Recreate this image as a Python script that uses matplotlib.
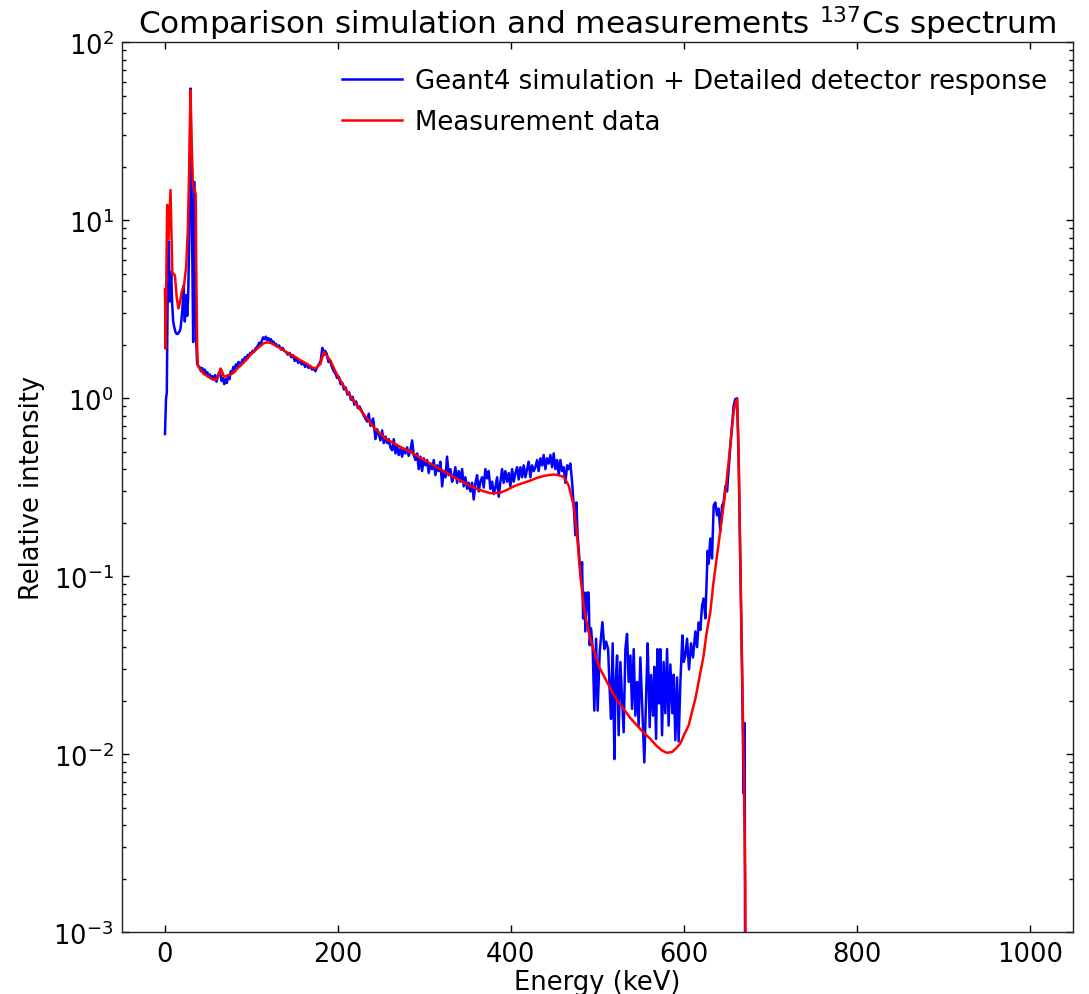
import matplotlib
matplotlib.use("Agg")
import matplotlib.pyplot as plt
from matplotlib.ticker import LogLocator, NullFormatter

# ---------------- data ----------------
sim_label = "Geant4 simulation + Detailed detector response"
meas_label = "Measurement data"

sim_energy = [
    0, 1.2, 2.1, 3.3, 4.4, 5.5, 6.3, 7.2, 8.3, 9.5, 10.8, 12.1, 13.5, 14.8, 16.3, 17.9,
    19.9, 21.7, 22.9, 24.5, 25.7, 26.8, 28, 29.5, 31, 32.6, 34.1, 35.3, 36.3, 37.2,
    38.5, 40, 41.5, 43, 44.5, 46, 47.5, 49, 50.5, 52, 53.5, 55, 56.5, 58, 59.5, 61,
    62.5, 64, 65.5, 67, 68.5, 70, 71.5, 73, 74.5, 76, 77.5, 79, 80.5, 82, 83.5, 85,
    86.5, 88, 89.5, 91, 92.5, 94, 95.5, 97, 98.5, 100, 101.5, 103, 104.5, 106, 107.5,
    109, 110.5, 112, 113.5, 115, 116.5, 118, 119.5, 121, 122.5, 124, 125.5, 127, 128.5,
    130, 132, 134, 136, 138, 140, 142, 144, 146, 148, 150, 152, 154, 156, 158, 160,
    162, 164, 166, 168, 170, 172, 174, 176, 178, 180, 182, 183.5, 185, 187, 189, 191,
    193, 195, 197, 199, 201, 203, 205, 207, 209, 211, 213, 215, 217, 219, 221, 223, 225,
    229.8, 233.8, 235.6, 237.6, 240.7, 243.4, 245.3, 247.2, 249.1, 251.1, 253, 255,
    256.9, 258.7, 260.7, 262.7, 264.5, 266.5, 268.4, 270.3, 272.3, 274.2, 276.1, 278,
    280, 281.8, 283.8, 285.8, 287.6, 289.6, 291.6, 293.4, 295.4, 297.3, 299.2, 301.2,
    303.1, 305, 306.9, 308.9, 310.8, 312.7, 314.7, 316.5, 318.5, 320.5, 322.3, 324.3,
    326.2, 328.1, 330.1, 332, 333.9, 335.8, 337.8, 339.7, 341.6, 343.6, 345.4, 347.4,
    349.4, 351.2, 353.2, 355.1, 357, 359, 360.9, 362.8, 364.7, 366.7, 368.6, 370.5,
    372.5, 374.3, 376.3, 378.3, 380.1, 382.1, 384, 385.9, 387.9, 389.8, 391.7, 393.6,
    395.6, 397.5, 399.4, 401.4, 403.2, 405.2, 407.2, 409, 411, 413, 414.8, 416.8,
    418.7, 420.6, 422.5, 424.5, 426.4, 428.3, 430.3, 432.1, 434.1, 436.1, 437.9, 439.9,
    441.8, 443.7, 445.7, 447.6, 449.5, 451.4, 453.4, 455.3, 457.2, 459.2, 461, 463,
    465, 466.8, 468.8,
    470.8, 472.6, 474.6, 475.7, 477.2, 479.5, 481.2, 482.3, 483.5, 485, 486.1, 488.1,
    489.9, 491.1, 492.7, 494.6, 496.5, 498.5, 500.3, 502.7, 505.8, 508.1, 510.1, 512.4,
    514.2, 515.8, 517.7, 519.7, 520.8, 522.8, 524.6, 526.6, 528.6, 530.4, 532.4, 534.3,
    536.2, 538.2, 540.1, 542, 543.9, 545.9, 547.7, 549.7, 551.7, 554.3, 556.6, 558.2,
    560.5, 562.1, 564.4, 565.9, 567.9, 569.4, 571.3, 572.8, 574.8, 576.6, 578.6, 580.6,
    582.4, 584.4, 586.7, 588.2, 590.2, 592.1, 594, 596, 598.3, 599.8, 601.7, 603.7,
    606, 608.3, 610.6, 613.3, 615.3, 617.1, 619.1, 621, 622.9, 624.9, 626, 627.5,
    628.7, 630.6, 632.6, 634.5, 636.4, 638.4, 640.2, 642.2, 644.2, 646, 648, 650,
    651.8, 653.8, 655.7, 657.6, 659.5, 661.5, 663.4, 665.5, 667.5, 669.1, 670.3, 671.5,
]
sim_intensity = [
    0.63, 1.0, 1.07, 5.0, 7.6, 3.5, 4.2, 5.1, 3.4, 2.7, 2.5, 2.36, 2.3, 2.3, 2.35, 2.45,
    3.05, 4.3, 2.7, 3.8, 2.9, 3.75, 7.6, 55, 12, 2.07, 16.4, 5.1, 2.0, 1.56,
    1.52, 1.5, 1.42, 1.48, 1.38, 1.45, 1.36, 1.4, 1.32, 1.36, 1.29, 1.33, 1.27, 1.35, 1.24, 1.32,
    1.4, 1.38, 1.25, 1.3, 1.2, 1.28, 1.22, 1.35, 1.28, 1.42, 1.38, 1.5, 1.45, 1.55, 1.5, 1.6,
    1.58, 1.55, 1.65, 1.62, 1.7, 1.66, 1.75, 1.72, 1.8, 1.78, 1.85, 1.82, 1.9, 1.93, 1.98,
    2.05, 2.02, 2.1, 2.2, 2.15, 2.22, 2.12, 2.18, 2.1, 2.15, 2.05, 2.08, 2.0, 2.02,
    1.95, 1.98, 1.88, 1.92, 1.85, 1.82, 1.76, 1.8, 1.7, 1.75, 1.62, 1.68, 1.58, 1.63, 1.55, 1.6,
    1.5, 1.55, 1.48, 1.52, 1.45, 1.47, 1.42, 1.5, 1.55, 1.62, 1.92, 1.75, 1.85, 1.78, 1.6, 1.62,
    1.5, 1.42, 1.38, 1.3, 1.32, 1.2, 1.22, 1.12, 1.15, 1.05, 1.08, 0.98, 1.02, 0.92, 0.96, 0.88, 0.9,
    0.80, 0.74, 0.82, 0.70, 0.77, 0.59, 0.67, 0.63, 0.58, 0.66, 0.56, 0.61,
    0.56, 0.59, 0.53, 0.51, 0.59, 0.49, 0.54, 0.48, 0.52, 0.47, 0.52, 0.49,
    0.53, 0.475, 0.51, 0.58, 0.48, 0.45, 0.49, 0.40, 0.47, 0.39, 0.46, 0.42,
    0.45, 0.38, 0.43, 0.40, 0.45, 0.37, 0.42, 0.39, 0.44, 0.32, 0.39, 0.36,
    0.47, 0.37, 0.40, 0.34, 0.365, 0.41, 0.335, 0.39, 0.34, 0.40, 0.32, 0.36,
    0.31, 0.335, 0.30, 0.335, 0.27, 0.335, 0.37, 0.30, 0.34, 0.36, 0.315, 0.40,
    0.355, 0.39, 0.31, 0.34, 0.29, 0.315, 0.36, 0.28, 0.34, 0.40, 0.335, 0.39,
    0.34, 0.38, 0.32, 0.40, 0.34, 0.38, 0.41, 0.35, 0.41, 0.36, 0.42, 0.36,
    0.40, 0.44, 0.36, 0.42, 0.39, 0.41, 0.45, 0.39, 0.46, 0.42, 0.48, 0.40,
    0.46, 0.43, 0.48, 0.41, 0.49, 0.40, 0.45, 0.37, 0.45, 0.39, 0.41, 0.335,
    0.42, 0.40, 0.43,
    0.338, 0.25, 0.17, 0.26, 0.17, 0.12, 0.099, 0.12, 0.058, 0.081, 0.049, 0.081,
    0.081, 0.041, 0.051, 0.039, 0.0176, 0.0446, 0.0176, 0.0375, 0.0553, 0.039, 0.043, 0.039,
    0.0233, 0.0158, 0.042, 0.0094, 0.0233, 0.0359, 0.0128, 0.033, 0.0205, 0.0133, 0.039, 0.0475,
    0.0255, 0.0359, 0.018, 0.039, 0.0165, 0.0255, 0.0145, 0.035, 0.0193, 0.009, 0.0233, 0.042,
    0.0142, 0.0279, 0.0165, 0.031, 0.0122, 0.039, 0.0193, 0.039, 0.0128, 0.033, 0.017, 0.039,
    0.0145, 0.032, 0.017, 0.028, 0.012, 0.027, 0.0118, 0.0255, 0.0465, 0.033, 0.0359, 0.0446,
    0.030, 0.042, 0.035, 0.049, 0.040, 0.055, 0.050, 0.068, 0.075, 0.058, 0.085, 0.139,
    0.118, 0.163, 0.126, 0.25, 0.26, 0.22, 0.24, 0.178, 0.25, 0.26, 0.32, 0.30,
    0.40, 0.54, 0.70, 0.91, 0.99, 1.0, 0.45, 0.1, 0.025, 0.006, 0.015, 1e-5,
]

meas_energy = [
    0, 0.6, 2.5, 4, 6.4, 8.5, 10, 11.5, 13.5, 15.6, 17.5, 19.5, 22, 24.5, 26.5, 28,
    29.5, 31, 32.5, 34, 35.5, 36.4, 37.2, 37.9, 40, 44.9, 49, 52.6, 55, 58.4, 60.3,
    62.5, 64.2, 65.5, 68, 71.9, 75.7, 80, 83.5, 87, 90, 95, 100, 106.6, 114.2, 118,
    122, 133.5, 140, 148.9, 156, 164.4, 170, 174, 179.8, 183.6, 185.5, 191.3, 196,
    202.9, 210, 218.3, 226, 233.8, 241, 249.1, 256, 264.5, 273, 283.8, 293, 303.1,
    312, 322.3, 332, 341.6, 351, 360.9, 369, 376.3, 387.9, 395, 403.2, 413, 422.5,
    430, 437.9, 443, 449.5, 455, 461, 466.8, 472.6, 476.5, 480.3, 484.2, 487, 490,
    494, 497.7, 502, 507.3, 512, 517, 523, 530.4, 538, 545.9, 553, 561.3, 568, 574.8,
    580, 586.4, 591, 596, 600, 605.5, 609, 613.3, 618, 622.9, 626, 630.6, 634, 638.4,
    642, 646, 649, 651.8, 654.5, 657.6, 659.5, 661.5, 663, 665, 667, 669, 671, 673,
]
meas_intensity = [
    4.1, 1.9, 12.2, 7.8, 14.8, 5.0, 5.0, 4.9, 3.7, 3.2, 3.5, 4.0, 4.3, 5.5, 9, 20,
    54, 25, 15.5, 15, 14, 4, 2.0, 1.53, 1.47, 1.37, 1.33, 1.30, 1.28, 1.27, 1.29,
    1.36, 1.47, 1.44, 1.32, 1.34, 1.36, 1.40, 1.47, 1.52, 1.57, 1.66, 1.78, 1.90, 2.04, 2.06,
    2.05, 1.91, 1.82, 1.73, 1.64, 1.56, 1.49, 1.47, 1.56, 1.82, 1.78, 1.63, 1.45,
    1.26, 1.10, 0.97, 0.86, 0.77, 0.69, 0.63, 0.59, 0.56, 0.53, 0.50, 0.47, 0.44,
    0.415, 0.39, 0.365, 0.345, 0.325, 0.31, 0.30, 0.293, 0.295, 0.305, 0.32, 0.333, 0.345,
    0.357, 0.366, 0.37, 0.373, 0.37, 0.362, 0.324, 0.25, 0.17, 0.101, 0.0685, 0.057, 0.0486,
    0.041, 0.0359, 0.031, 0.0277, 0.025, 0.0224, 0.020, 0.018, 0.016, 0.0145, 0.0133, 0.0122, 0.0112, 0.0105,
    0.0102, 0.0103, 0.0108, 0.0115, 0.0128, 0.0145, 0.017, 0.0205, 0.027, 0.0359, 0.047, 0.063, 0.09, 0.131,
    0.18, 0.25, 0.33, 0.44, 0.60, 0.84, 0.93, 0.99, 0.6, 0.15, 0.04, 0.01, 0.002, 1e-5,
]

x_ticks = [0, 200, 400, 600, 800, 1000]
title_text = "Comparison simulation and measurements $^{137}$Cs spectrum"
x_label = "Energy (keV)"
y_label = "Relative intensity"

# ---------------- figure ----------------
plt.rcParams['font.family'] = ['DejaVu Sans']
plt.rcParams['mathtext.fontset'] = 'dejavusans'
FS = 18.5

fig = plt.figure(figsize=(10.89, 9.95), dpi=100)
ax = fig.add_axes([0.1118, 0.062, 0.8735, 0.8945])

ax.plot(sim_energy, sim_intensity, color='blue', lw=1.8, label=sim_label)
ax.plot(meas_energy, meas_intensity, color='red', lw=1.8, label=meas_label)

ax.set_yscale('log')
ax.set_xlim(-50, 1050)
ax.set_ylim(1e-3, 1e2)
ax.set_xticks(x_ticks)
ax.yaxis.set_major_locator(LogLocator(base=10, numticks=10))
ax.yaxis.set_minor_locator(LogLocator(base=10, subs=range(2, 10), numticks=20))
ax.yaxis.set_minor_formatter(NullFormatter())

ax.tick_params(which='both', direction='in', top=True, right=True, labelsize=FS)
ax.tick_params(which='major', length=5, width=1, pad=6)
ax.tick_params(which='minor', length=3, width=1)
for s in ax.spines.values():
    s.set_linewidth(1.0)
    s.set_color('#222222')

ax.set_title(title_text, fontsize=22.4, pad=5)
ax.set_xlabel(x_label, fontsize=FS, labelpad=2)
ax.set_ylabel(y_label, fontsize=FS, labelpad=6)

ax.legend(loc='upper right', frameon=False, fontsize=18.7, handlelength=2.3,
          handletextpad=0.5, labelspacing=0.57, borderaxespad=0.6)

fig.savefig('out.png', dpi=100)
